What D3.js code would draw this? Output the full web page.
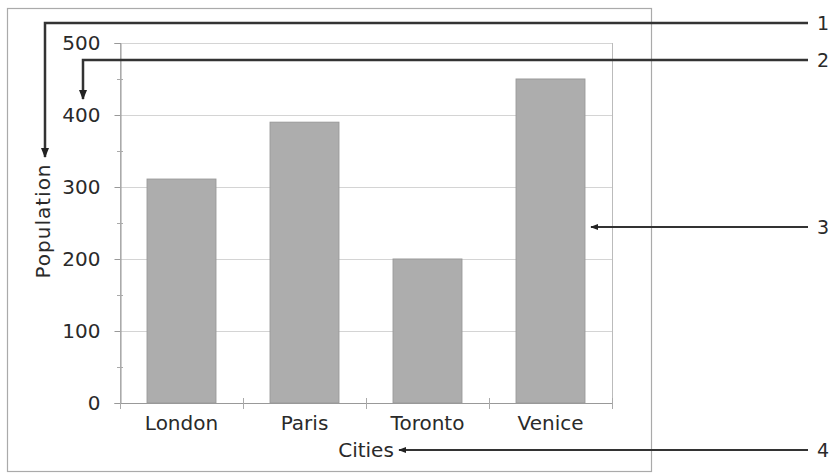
<!DOCTYPE html>
<html lang="en">
<head>
  <meta charset="UTF-8">
  <title>Population by city</title>
  <style>
    body{ margin:0; background:#fff; }
    svg{ display:block; }
    text{ font-family:"DejaVu Sans", sans-serif; fill:#2a2a2a; }
  </style>
</head>
<body>
<svg width="832" height="474"></svg>

<script src="https://cdn.jsdelivr.net/npm/d3@7"></script>
<script>
  // data
  var cities = ["London", "Paris", "Toronto", "Venice"];
  var population = [311, 390, 200, 450];
  var yTickValues = [0, 100, 200, 300, 400, 500];
  var calloutLabels = ["1", "2", "3", "4"];

  var svg = d3.select('svg');
  var plot = {left: 120, right: 612, top: 43, bottom: 403};

  var x = d3.scaleBand().domain(cities).range([plot.left, plot.right])
          .paddingInner(0.44).paddingOuter(0.22);
  var y = d3.scaleLinear().domain([0, 500]).range([plot.bottom, plot.top]);

  // arrow marker
  svg.append('defs').append('marker')
          .attr('id', 'arr').attr('viewBox', '0 0 10 10')
          .attr('refX', 9).attr('refY', 5)
          .attr('markerWidth', 4).attr('markerHeight', 4)
          .attr('orient', 'auto-start-reverse')
          .append('path').attr('d', 'M0,1 L10,5 L0,9 z').attr('fill', '#222');

  // outer chart frame
  svg.append('rect').attr('x', 7.5).attr('y', 8.5).attr('width', 644).attr('height', 463)
          .attr('fill', 'none').attr('stroke', '#aaa').attr('stroke-width', 1.2);

  // plot area frame
  svg.append('rect').attr('x', plot.left + 0.5).attr('y', plot.top + 0.5)
          .attr('width', plot.right - plot.left).attr('height', plot.bottom - plot.top)
          .attr('fill', 'none').attr('stroke', '#bbb');

  // gridlines
  svg.append('g').selectAll('line').data(yTickValues.slice(1)).enter().append('line')
          .attr('x1', plot.left).attr('x2', plot.right)
          .attr('y1', function (d) { return Math.round(y(d)) + 0.5; })
          .attr('y2', function (d) { return Math.round(y(d)) + 0.5; })
          .attr('stroke', '#d4d4d4');

  // bars
  svg.append('g').selectAll('rect').data(population).enter().append('rect')
          .attr('x', function (d, i) { return x(cities[i]); })
          .attr('y', function (d) { return y(d); })
          .attr('width', x.bandwidth())
          .attr('height', function (d) { return y(0) - y(d); })
          .attr('fill', '#adadad').attr('stroke', '#999').attr('stroke-width', 1);

  // y axis
  var yAxis = d3.axisLeft(y).tickValues(yTickValues).tickSize(6).tickPadding(14);
  var gy = svg.append('g').attr('transform', `translate(${plot.left + 0.5},0)`).call(yAxis);
  gy.select('.domain').attr('stroke', '#999');
  gy.selectAll('.tick line').attr('stroke', '#999');
  gy.selectAll('text').attr('font-size', 20).attr('fill', '#2a2a2a')
          .attr('font-family', '"DejaVu Sans", sans-serif');
  // minor ticks
  svg.append('g').selectAll('line').data(d3.range(50, 500, 100)).enter().append('line')
          .attr('x1', plot.left - 3).attr('x2', plot.left + 3)
          .attr('y1', function (d) { return Math.round(y(d)) + 0.5; })
          .attr('y2', function (d) { return Math.round(y(d)) + 0.5; })
          .attr('stroke', '#aaa');

  // x axis
  svg.append('line').attr('x1', plot.left).attr('x2', plot.right)
          .attr('y1', plot.bottom + 0.5).attr('y2', plot.bottom + 0.5).attr('stroke', '#999');
  var bounds = d3.range(cities.length + 1).map(function (i) { return plot.left + i * x.step(); });
  svg.append('g').selectAll('line').data(bounds).enter().append('line')
          .attr('x1', function (d) { return Math.round(d) + 0.5; })
          .attr('x2', function (d) { return Math.round(d) + 0.5; })
          .attr('y1', plot.bottom - 5).attr('y2', plot.bottom + 6)
          .attr('stroke', '#aaa');
  svg.append('g').selectAll('text').data(cities).enter().append('text')
          .attr('x', function (d) { return x(d) + x.bandwidth() / 2; })
          .attr('y', 430).attr('text-anchor', 'middle').attr('font-size', 20)
          .text(function (d) { return d; });

  // axis titles
  svg.append('text').attr('transform', 'translate(50,221) rotate(-90)')
          .attr('text-anchor', 'middle').attr('font-size', 20).attr('letter-spacing', 1)
          .text('Population');
  svg.append('text').attr('x', 366).attr('y', 457).attr('text-anchor', 'middle')
          .attr('font-size', 20).text('Cities');

  // callouts
  var calloutPaths = [
    [[808, 23], [45, 23], [45, 157]],
    [[808, 60], [83, 60], [83, 99]],
    [[808, 227], [591, 227]],
    [[808, 450], [399, 450]]
  ];
  var line = d3.line();
  svg.append('g').selectAll('path').data(calloutPaths).enter().append('path')
          .attr('d', function (d) { return line(d); })
          .attr('fill', 'none').attr('stroke', '#333')
          .attr('stroke-width', function (d, i) { return i < 2 ? 2.5 : 2; })
          .attr('marker-end', 'url(#arr)');
  svg.append('g').selectAll('text').data(calloutLabels).enter().append('text')
          .attr('x', 817)
          .attr('y', function (d, i) { return calloutPaths[i][0][1] + 7; })
          .attr('font-family', '"Liberation Serif", serif').attr('font-size', 19)
          .attr('fill', '#222')
          .text(function (d) { return d; });
</script>
</body>
</html>
